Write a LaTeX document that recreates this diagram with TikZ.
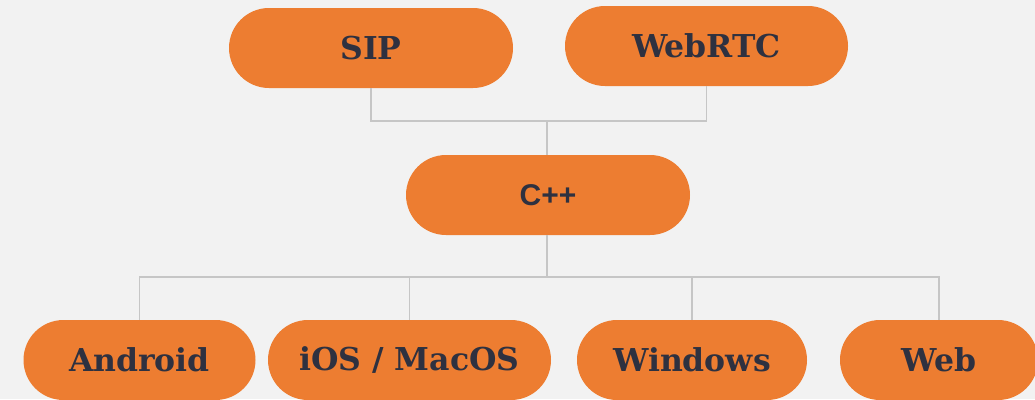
\documentclass[tikz,border=0pt]{standalone}
\usepackage{fontspec}
\setmainfont{DejaVu Serif}
\newfontfamily\cppfont{Liberation Sans}
\definecolor{bg}{HTML}{F2F2F2}
\definecolor{pill}{HTML}{ED7D31}
\definecolor{ink}{HTML}{2E3140}
\definecolor{wire}{HTML}{C6C6C6}
\begin{document}
\begin{tikzpicture}[x=1pt,y=-1pt,
  pillbox/.style={fill=pill,rounded corners=40pt,minimum height=80pt,inner sep=0pt,
    text=ink,font=\fontsize{31.5}{34}\selectfont\bfseries},
  wireline/.style={draw=wire,line width=1.8pt}]
\fill[bg] (0,0) rectangle (1035,399);
\useasboundingbox (0,0) rectangle (1035,399);
\node[pillbox,minimum width=284pt] (sip) at (371,48) {SIP};
\node[pillbox,minimum width=283pt] (webrtc) at (706.5,46) {WebRTC};
\node[pillbox,minimum width=284pt,font=\cppfont\fontsize{30}{32}\selectfont\bfseries] (cpp) at (548,195) {C++};
\node[pillbox,minimum width=232pt] (android) at (139.5,360) {Android};
\node[pillbox,minimum width=283pt] (ios) at (409.5,360) {iOS / MacOS};
\node[pillbox,minimum width=230pt] (windows) at (692,360) {Windows};
\node[pillbox,minimum width=198pt] (web) at (939,360) {Web};
\coordinate (j1) at (547,121);
\coordinate (j2) at (547,277);
\draw[wireline] (sip.south) |- (j1) -| (webrtc.south);
\draw[wireline] (j1) -- (j1 |- cpp.north);
\draw[wireline] (j2 |- cpp.south) -- (j2);
\draw[wireline] (android.north) |- (j2) -| (web.north);
\draw[wireline] (ios.north) -- (ios.north |- j2);
\draw[wireline] (windows.north) -- (windows.north |- j2);
\end{tikzpicture}
\end{document}
